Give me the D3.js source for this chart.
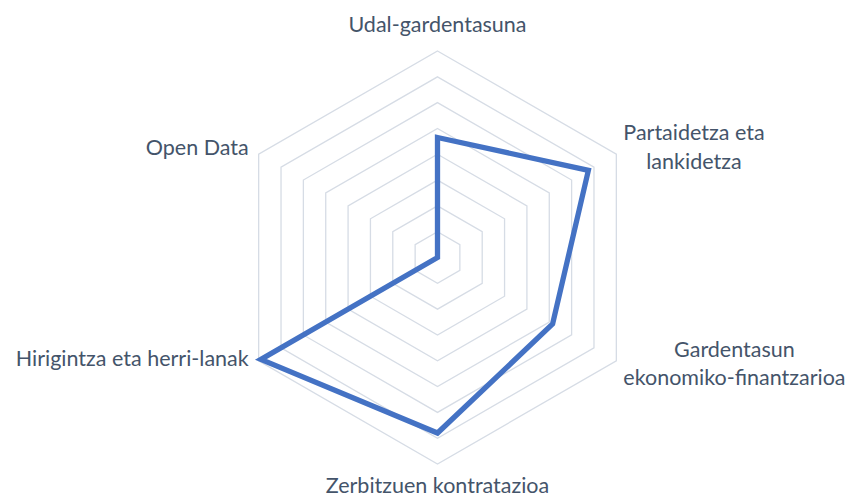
<!DOCTYPE html>
<html>
<head>
<meta charset="utf-8">
<script src="https://cdn.jsdelivr.net/npm/d3@7/dist/d3.min.js"></script>
<style>
  html, body { margin: 0; padding: 0; background: #ffffff; }
  svg { display: block; }
  text { font-family: Lato, "Open Sans", sans-serif; fill: #44546A; }
</style>
</head>
<body>
<svg id="chart" width="858" height="497"></svg>
<script>
// Data
const categories = [
  ["Udal-gardentasuna"],
  ["Partaidetza eta", "lankidetza"],
  ["Gardentasun", "ekonomiko-finantzarioa"],
  ["Zerbitzuen kontratazioa"],
  ["Hirigintza eta herri-lanak"],
  ["Open Data"]
];
const values = [46.5, 67.5, 51.5, 68, 79, 0];
const gridTicks = [10, 20, 30, 40, 50, 60, 70, 80];
const maxValue = 80;

const svg = d3.select("#chart");
const cx = 437.5, cy = 257.5, R = 206.5;
const n = categories.length;

const r = d3.scaleLinear().domain([0, maxValue]).range([0, R]);
const angle = d3.scaleLinear().domain([0, n]).range([0, 2 * Math.PI]);

const g = svg.append("g").attr("transform", `translate(${cx},${cy})`);

const radial = d3.lineRadial()
  .angle((d, i) => angle(i))
  .radius(d => r(d))
  .curve(d3.curveLinearClosed);

// grid rings
g.selectAll("path.ring")
  .data(gridTicks)
  .join("path")
  .attr("class", "ring")
  .attr("d", t => radial(d3.range(n).map(() => t)))
  .attr("fill", "none")
  .attr("stroke", "#D6DCE5")
  .attr("stroke-width", 1.3);

// data
g.append("path")
  .datum(values)
  .attr("d", radial)
  .attr("fill", "none")
  .attr("stroke", "#4472C4")
  .attr("stroke-width", 5.3)
  .attr("stroke-linejoin", "miter");

// labels
const fontSize = 21.5;
categories.forEach((lines, i) => {
  const a = angle(i);
  const vx = Math.sin(a) * R, vy = -Math.cos(a) * R;
  const sx = Math.sin(a), cyy = -Math.cos(a);
  let x, anchor, baseline, spacing = 28.5;
  if (Math.abs(sx) < 0.1) {
    anchor = "middle";
    x = vx;
    baseline = cyy < 0 ? vy - 19 : vy + 28.5;
  } else {
    anchor = sx > 0 ? "start" : "end";
    x = sx > 0 ? vx + 7 : vx - 10;
    if (cyy < 0) {
      baseline = lines.length > 1 ? vy - 14 : vy + 1;
    } else {
      baseline = lines.length > 1 ? vy - 4 : vy + 5.5;
    }
  }
  const t = g.append("text")
    .attr("font-size", fontSize)
    .attr("text-anchor", anchor)
    .attr("x", x)
    .attr("y", baseline);
  if (lines.length === 1) {
    t.text(lines[0]);
  } else {
    const widths = lines.map(l => {
      const s = g.append("text").attr("font-size", fontSize).text(l);
      const w = s.node().getComputedTextLength();
      s.remove();
      return w;
    });
    const bw = d3.max(widths);
    const left = anchor === "start" ? x : x - bw;
    t.attr("text-anchor", "middle");
    lines.forEach((l, k) => {
      t.append("tspan")
        .attr("x", left + bw / 2)
        .attr("y", baseline + k * spacing)
        .text(l);
    });
  }
});
</script>
</body>
</html>
